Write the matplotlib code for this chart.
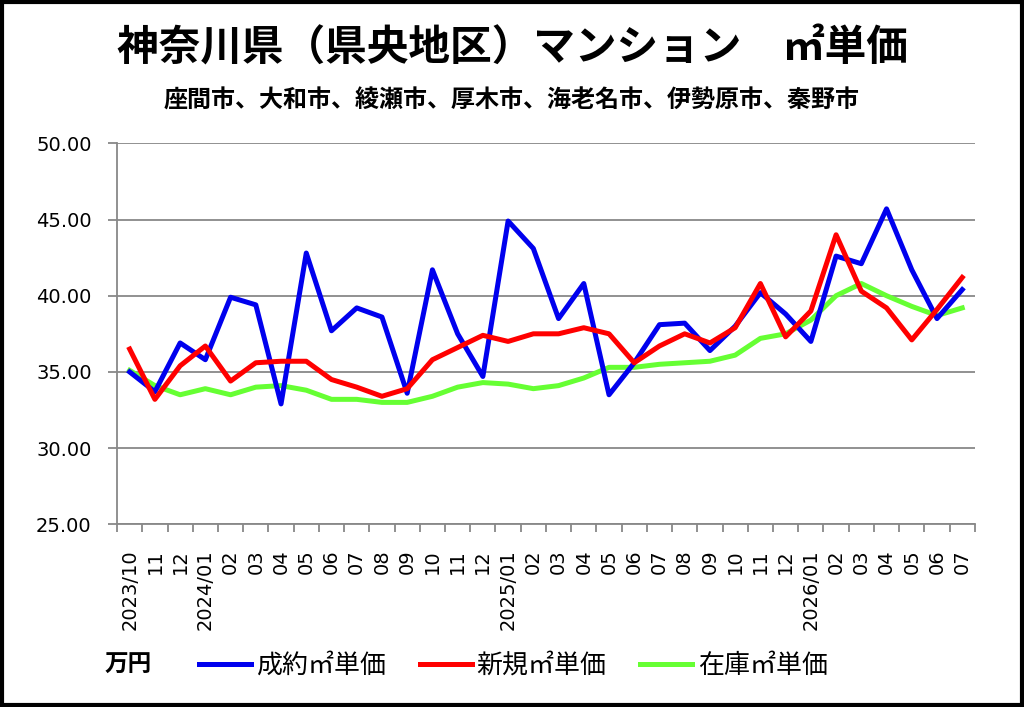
import numpy as np
import matplotlib.pyplot as plt
from matplotlib.patches import Rectangle

plt.rcParams['font.family'] = ['DejaVu Sans', 'Noto Sans CJK JP']
cjk = ['Noto Sans CJK JP', 'DejaVu Sans']

months = ['2023/10', '11', '12',
          '2024/01', '02', '03', '04', '05', '06', '07', '08', '09', '10', '11', '12',
          '2025/01', '02', '03', '04', '05', '06', '07', '08', '09', '10', '11', '12',
          '2026/01', '02', '03', '04', '05', '06', '07']

seiyaku = [35.0, 33.7, 36.9, 35.8, 39.9, 39.4, 32.9, 42.8, 37.7, 39.2, 38.6, 33.6,
           41.7, 37.5, 34.7, 44.9, 43.1, 38.5, 40.8, 33.5, 35.6, 38.1, 38.2, 36.4,
           38.0, 40.2, 38.8, 37.0, 42.6, 42.1, 45.7, 41.7, 38.5, 40.4]
shinki = [36.5, 33.2, 35.4, 36.7, 34.4, 35.6, 35.7, 35.7, 34.5, 34.0, 33.4, 33.9,
          35.8, 36.6, 37.4, 37.0, 37.5, 37.5, 37.9, 37.5, 35.6, 36.7, 37.5, 36.9,
          37.9, 40.8, 37.3, 39.0, 44.0, 40.3, 39.2, 37.1, 39.1, 41.2]
zaiko = [35.1, 34.1, 33.5, 33.9, 33.5, 34.0, 34.1, 33.8, 33.2, 33.2, 33.0, 33.0,
         33.4, 34.0, 34.3, 34.2, 33.9, 34.1, 34.6, 35.3, 35.3, 35.5, 35.6, 35.7,
         36.1, 37.2, 37.5, 38.4, 40.0, 40.8, 40.0, 39.3, 38.7, 39.2]

fig = plt.figure(figsize=(10.24, 7.07), dpi=100)
ax = fig.add_axes([0.1143, 0.2584, 0.8377, 0.5389])

x = np.arange(len(months))
ax.plot(x, seiyaku, color='#0000ee', linewidth=3.6, label='成約㎡単価', zorder=3)
ax.plot(x, shinki, color='#ff0000', linewidth=3.6, label='新規㎡単価', zorder=4)
ax.plot(x, zaiko, color='#66ff33', linewidth=3.6, label='在庫㎡単価', zorder=2)

ax.set_xlim(-0.5, len(months) - 0.5)
ax.set_ylim(25, 50)
ax.set_yticks([25, 30, 35, 40, 45, 50])
ax.set_yticklabels(['%.2f' % v for v in [25, 30, 35, 40, 45, 50]], fontsize=14)
ax.set_xticks(x)
ax.set_xticklabels(months, rotation=90, fontsize=14)
ax.set_xticks(np.arange(len(months) + 1) - 0.5, minor=True)
ax.tick_params(axis='x', which='major', length=0, pad=18)
ax.tick_params(axis='x', which='minor', length=6, width=1.3, color='#888888', direction='out')
ax.tick_params(axis='y', length=6.3, width=1.3, color='#888888', pad=12)

ax.grid(axis='y', color='#888888', linewidth=1.3)
ax.set_axisbelow(True)
for s in ['top', 'right']:
    ax.spines[s].set_visible(False)
for s in ['left', 'bottom']:
    ax.spines[s].set_color('#888888')
    ax.spines[s].set_linewidth(1.3)

fig.text(0.5, 0.932, '神奈川県（県央地区）マンション　㎡単価', ha='center', va='center',
         fontsize=30, fontweight='bold', family=cjk)
fig.text(0.5, 0.858, '座間市、大和市、綾瀬市、厚木市、海老名市、伊勢原市、秦野市', ha='center', va='center',
         fontsize=17.3, fontweight='bold', family=cjk)

fig.text(0.1025, 0.059, '万円', ha='left', va='center', fontsize=17, fontweight='bold', family=cjk)
fig.legend(loc='center left', bbox_to_anchor=(0.194, 0.059), ncol=3, frameon=False,
           prop={'family': cjk, 'size': 18.7}, handlelength=2.0, handletextpad=0.2,
           columnspacing=1.3, borderpad=0, borderaxespad=0)

fig.add_artist(Rectangle((0.002, 0.003), 0.996, 0.994, transform=fig.transFigure,
                         fill=False, edgecolor='black', linewidth=3))

fig.savefig('out.png', dpi=100)
